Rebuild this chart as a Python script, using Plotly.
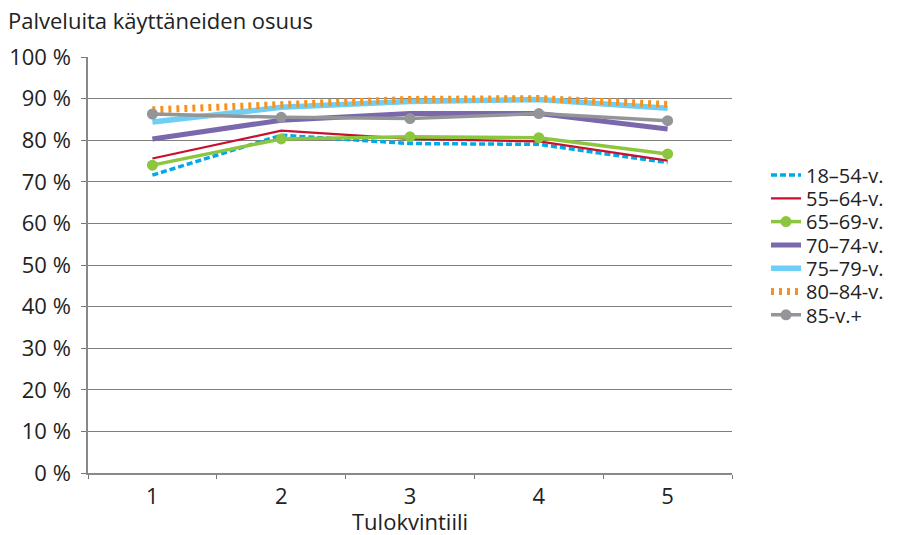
import plotly.graph_objects as go

categories = ["1", "2", "3", "4", "5"]
series_names = ["18–54-v.", "55–64-v.", "65–69-v.", "70–74-v.", "75–79-v.", "80–84-v.", "85-v.+"]
v18_54 = [71.6, 81.2, 79.2, 79.0, 74.6]
v55_64 = [75.6, 82.3, 80.3, 79.7, 75.1]
v65_69 = [74.0, 80.3, 80.8, 80.6, 76.7]
v70_74 = [80.3, 84.8, 86.4, 86.4, 82.7]
v75_79 = [84.4, 87.9, 89.3, 89.8, 87.7]
v80_84 = [87.3, 88.6, 89.8, 90.0, 88.6]
v85 = [86.3, 85.5, 85.2, 86.4, 84.7]
y_ticks = [0, 10, 20, 30, 40, 50, 60, 70, 80, 90, 100]

FONT = "Open Sans"
FS = 22
LEG_FS = 20

styles = [
    dict(line=dict(color="#00A9E8", width=3.5, dash="6px,3px"), mode="lines"),
    dict(line=dict(color="#C8102E", width=2.2), mode="lines"),
    dict(line=dict(color="#8CC63F", width=3.5), mode="lines+markers", marker=dict(size=11, color="#8CC63F")),
    dict(line=dict(color="#7A67AC", width=5), mode="lines"),
    dict(line=dict(color="#6DCFF6", width=5.5), mode="lines"),
    dict(line=dict(color="#F39321", width=7, dash="3px,5px"), mode="lines"),
    dict(line=dict(color="#939598", width=3.5), mode="lines+markers", marker=dict(size=11, color="#939598")),
]
values = [v18_54, v55_64, v65_69, v70_74, v75_79, v80_84, v85]

# plot area in pixels: left 88, top 57, width 644, height 416
PLOT_H = 416
legend_x = (766 - 88) / 644
legend_first_y = 175
legend_step = 23.3

fig = go.Figure()
legend_layouts = {}
for i, (name, vals, st) in enumerate(zip(series_names, values, styles)):
    key = "legend" if i == 0 else f"legend{i + 1}"
    fig.add_trace(go.Scatter(x=categories, y=vals, name=name, legend=key, **st))
    ypix = legend_first_y + i * legend_step
    legend_layouts[key] = dict(
        x=legend_x, y=(473 - ypix) / PLOT_H, xanchor="left", yanchor="middle",
        font=dict(size=LEG_FS, family=FONT, color="#222222"), itemwidth=30,
        bgcolor="rgba(0,0,0,0)", borderwidth=0, tracegroupgap=0,
    )

fig.update_layout(
    width=900, height=535,
    margin=dict(l=88, r=168, t=57, b=62, autoexpand=False),
    paper_bgcolor="white", plot_bgcolor="white",
    font=dict(family=FONT, size=FS, color="#222222"),
    showlegend=True,
    annotations=[
        dict(text="Palveluita käyttäneiden osuus", x=-82/644, y=(473 - 3) / PLOT_H,
             xref="paper", yref="paper", xanchor="left", yanchor="top", showarrow=False,
             font=dict(size=FS, family=FONT, color="#222222")),
        dict(text="Tulokvintiili", x=0.5, y=-(521 - 473) / PLOT_H,
             xref="paper", yref="paper", xanchor="center", yanchor="middle", showarrow=False,
             font=dict(size=FS, family=FONT, color="#222222")),
    ],
    **legend_layouts,
)

fig.update_xaxes(type="category", range=[-0.5, 4.5], tickson="boundaries", ticks="outside", ticklen=4,
                 tickcolor="#777777", showline=True, linecolor="#888888", linewidth=1.5,
                 showgrid=False, tickfont=dict(size=FS), ticklabelstandoff=3, automargin=False)
fig.update_yaxes(range=[0, 100], tickvals=y_ticks, ticktext=[f"{t} %" for t in y_ticks],
                 ticks="outside", ticklen=5, tickcolor="#777777", showline=True,
                 linecolor="#888888", linewidth=1.5, showgrid=True, gridcolor="#7f7f7f",
                 gridwidth=1, zeroline=False, tickfont=dict(size=FS), ticklabelstandoff=6,
                 automargin=False)

fig.write_html("out.html")
